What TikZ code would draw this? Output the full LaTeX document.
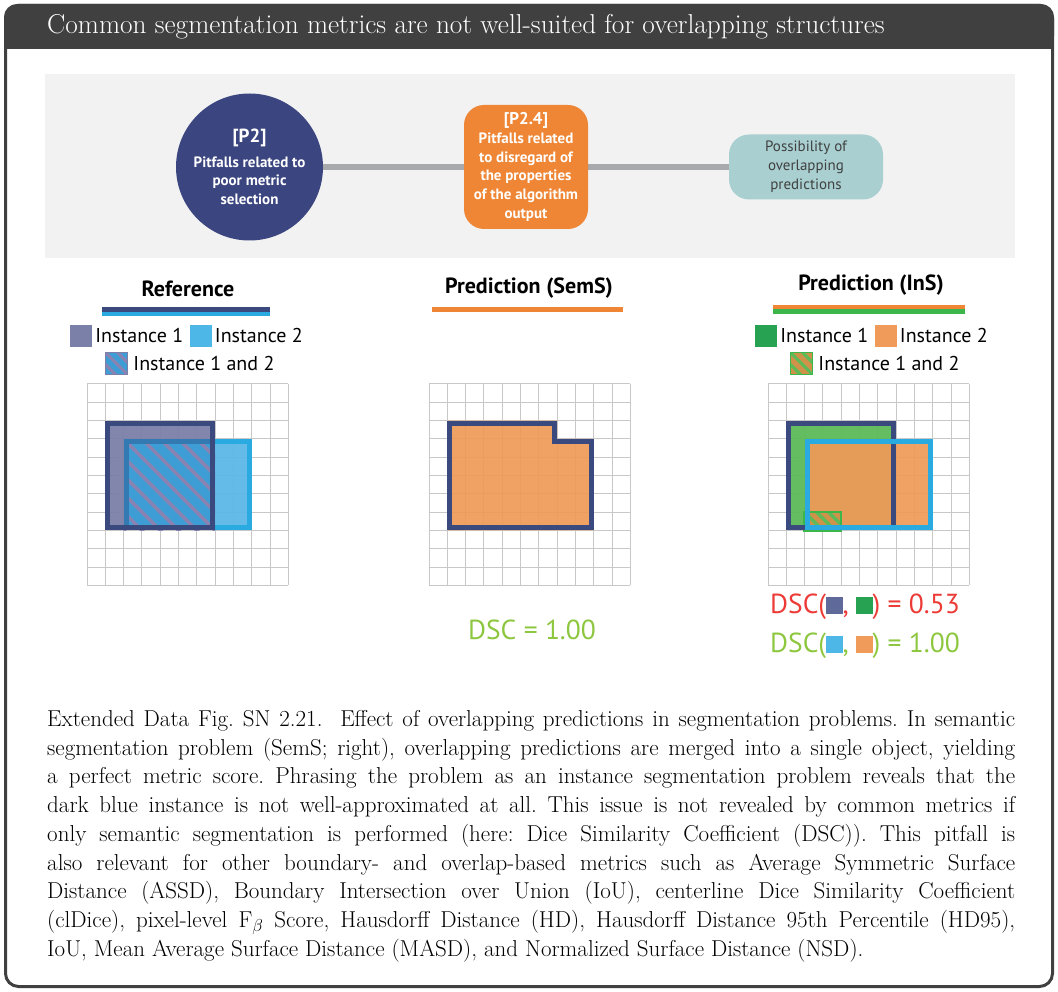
\documentclass[tikz,border=0pt]{standalone}
\usepackage{fontspec}
\newfontfamily\ptsans{PT Sans}
\usetikzlibrary{positioning, backgrounds}
\definecolor{frameGrey}{RGB}{64, 64, 64}
\definecolor{panelGrey}{RGB}{242, 242, 242}
\definecolor{linkGrey}{RGB}{167, 169, 172}
\definecolor{p2Blue}{RGB}{59, 69, 128}
\definecolor{p24Orange}{RGB}{238, 134, 53}
\definecolor{possTeal}{RGB}{169, 207, 208}
\definecolor{insDark}{RGB}{59, 74, 126}
\definecolor{insOneFill}{RGB}{123, 128, 168}
\definecolor{insTwoFill}{RGB}{93, 183, 230}
\definecolor{insTwoLine}{RGB}{41, 171, 226}
\definecolor{mixLine}{RGB}{52, 122, 178}
\definecolor{hatchBase}{RGB}{63, 157, 214}
\definecolor{hatchLine}{RGB}{138, 130, 176}
\definecolor{semsOrange}{RGB}{239, 154, 87}
\definecolor{insGreen}{RGB}{92, 186, 88}
\definecolor{legGreen}{RGB}{39, 162, 83}
\definecolor{legOrange}{RGB}{240, 155, 90}
\definecolor{legBlue}{RGB}{77, 184, 232}
\definecolor{dscBlue}{RGB}{95, 106, 154}
\definecolor{hatchBrown}{RGB}{208, 146, 72}
\definecolor{hatchGreen}{RGB}{60, 181, 74}
\definecolor{dscRed}{RGB}{236, 59, 54}
\definecolor{dscGreen}{RGB}{141, 198, 63}
\definecolor{gridGrey}{RGB}{200, 200, 200}
\tikzset{
  GridLn/.style  = {draw=gridGrey, line width=1},
  Edge/.style    = {line width=5},
  Stripe/.style  = {line width=3.5},
  Swatch/.style  = {minimum size=22, inner sep=0, anchor=center},
  LegTxt/.style  = {font=\ptsans\fontsize{20}{23}\selectfont, inner sep=0, anchor=west},
  Head/.style    = {font=\ptsans\bfseries\fontsize{22}{26}\selectfont, inner sep=0},
  DscTxt/.style  = {font=\ptsans\fontsize{27.5}{31}\selectfont, inner sep=0},
  Ttl/.style     = {font=\fontsize{27.3}{30}\selectfont, text=white, anchor=west, inner sep=0},
  Capt/.style    = {font=\fontsize{23}{28.75}\selectfont\frenchspacing, align=justify,
                    text width=968, anchor=north west, inner sep=0},
  P2Circ/.style  = {circle, fill=p2Blue, minimum size=147, inner sep=0, text=white,
                    align=center, font=\ptsans\bfseries\fontsize{15}{18.5}\selectfont},
  P24Box/.style  = {rectangle, rounded corners=20, fill=p24Orange, minimum width=124,
                    minimum height=124, inner sep=0, text=white, align=center,
                    font=\ptsans\bfseries\fontsize{15}{18.7}\selectfont},
  PossBox/.style = {rectangle, rounded corners=20, fill=possTeal, minimum width=154,
                    minimum height=65, inner sep=0, text=frameGrey, align=center,
                    font=\ptsans\fontsize{15}{19}\selectfont},
  Link/.style    = {draw=linkGrey, line width=6},
  RefHatch/.style = {Swatch, fill=hatchBase, draw=insOneFill, line width=1.5,
                     path picture={\foreach \k in {-12,0,12}
                       \draw[hatchLine, line width=3]
                         ([xshift=\k]path picture bounding box.north west) -- ++(30,30);}},
  InsHatch/.style = {Swatch, fill=hatchBrown, draw=hatchGreen, line width=1.5,
                     path picture={\foreach \k in {-12,0,12}
                       \draw[insGreen, line width=3]
                         ([xshift=\k]path picture bounding box.north west) -- ++(30,30);}},
}
\newcommand{\cs}{18.3}
\newcommand{\pixgrid}{%
  \foreach \k in {0,...,11} {
    \draw[GridLn] (\k*\cs, 0) -- (\k*\cs, 11*\cs);
    \draw[GridLn] (0, \k*\cs) -- (11*\cs, \k*\cs);
  }}
\newcommand{\sqbox}[1]{\textcolor{#1}{\rule{0.6em}{0.6em}}}
\newcommand{\jline}[1]{\makebox[968pt][s]{#1}}

\begin{document}
\begin{tikzpicture}[x=1pt, y=-1pt]
\useasboundingbox (0,0) rectangle (1058,992);

% ======================= frame and title =================================
\fill[frameGrey, rounded corners=13] (4,4) rectangle (1054,49);
\fill[frameGrey] (4,30) rectangle (1054,49);
\draw[frameGrey, line width=3, rounded corners=13] (5.5,5.5) rectangle (1052.5,986.5);
\node[Ttl] (title) at (47,27)
  {Common segmentation metrics are not well-suited for overlapping structures};

% ======================= pitfall path ====================================
\node[P2Circ] (p2) at (249.5,167)
  {{\fontsize{19}{22}\selectfont [P2]}\\[6pt]Pitfalls related to\\poor metric\\selection};
\node[P24Box] (p24) at (526,167)
  {{\fontsize{17}{20}\selectfont [P2.4]}\\Pitfalls related\\to disregard of\\the properties\\
   of the algorithm\\output};
\node[PossBox] (poss) at (806,167) {Possibility of\\overlapping\\predictions};
\begin{scope}[on background layer]
  \fill[panelGrey] (45,74) rectangle (1015,258);
  \draw[Link] (p2) -- (poss);
\end{scope}

% ======================= headings ========================================
\node[Head] (refhd) at (188,289) {Reference};
\fill[insDark] (102,307) rectangle (270,312.5);
\fill[insTwoLine] (102,312.5) rectangle (270,316);
\node[Head] (semhd) at (529,288) {Prediction (SemS)};
\fill[p24Orange] (432,307) rectangle (623,312);
\node[Head] (inshd) at (871,285) {Prediction (InS)};
\fill[p24Orange] (773,305) rectangle (965,309.5);
\fill[hatchGreen] (773,309.5) rectangle (965,314);

% ======================= legends =========================================
\node[Swatch, fill=insOneFill] (refsw1) at (81,336) {};
\node[LegTxt, right=3 of refsw1] (reftx1) {Instance 1};
\node[Swatch, fill=legBlue, right=6 of reftx1] (refsw2) {};
\node[LegTxt, right=3 of refsw2] (reftx2) {Instance 2};
\node[RefHatch] (refsw3) at (116.5,363.5) {};
\node[LegTxt, right=5 of refsw3] (reftx3) {Instance 1 and 2};

\node[Swatch, fill=legGreen] (inssw1) at (766,336) {};
\node[LegTxt, right=3 of inssw1] (instx1) {Instance 1};
\node[Swatch, fill=legOrange, right=6 of instx1] (inssw2) {};
\node[LegTxt, right=3 of inssw2] (instx2) {Instance 2};
\node[InsHatch] (inssw3) at (801.5,363.5) {};
\node[LegTxt, right=5 of inssw3] (instx3) {Instance 1 and 2};

% ======================= reference grid ==================================
\begin{scope}[shift={(87,384)}]
  \pixgrid
  \fill[insOneFill, fill opacity=0.95] (\cs,2*\cs) rectangle (7*\cs,8*\cs);
  \fill[insTwoFill, fill opacity=0.95] (7*\cs,3*\cs) rectangle (9*\cs,8*\cs);
  \begin{scope}
    \clip (2*\cs,3*\cs) rectangle (7*\cs,8*\cs);
    \fill[hatchBase] (2*\cs,3*\cs) rectangle (7*\cs,8*\cs);
    \foreach \k in {-5,...,5}
      \draw[Stripe, hatchLine] (2*\cs+\k*\cs, 3*\cs) -- ++(6*\cs, 6*\cs);
  \end{scope}
  \draw[Edge, insTwoLine] (2*\cs+2.5, 3*\cs+2.5) rectangle (9*\cs-2.5, 8*\cs-2.5);
  \begin{scope}
    \clip (\cs,2*\cs) rectangle (7*\cs,8*\cs);
    \draw[Edge, mixLine] (2*\cs+2.5, 3*\cs+2.5) rectangle (9*\cs-2.5, 8*\cs-2.5);
  \end{scope}
  \draw[Edge, insDark] (\cs+2.5, 2*\cs+2.5) rectangle (7*\cs-2.5, 8*\cs-2.5);
\end{scope}

% ======================= semantic prediction grid ========================
\begin{scope}[shift={(429,384)}]
  \pixgrid
  \fill[semsOrange, fill opacity=0.92] (\cs,2*\cs) -- (7*\cs,2*\cs) -- (7*\cs,3*\cs)
    -- (9*\cs,3*\cs) -- (9*\cs,8*\cs) -- (\cs,8*\cs) -- cycle;
  \draw[Edge, insDark] (\cs+2.5, 2*\cs+2.5) -- (7*\cs-2.5, 2*\cs+2.5)
    -- (7*\cs-2.5, 3*\cs+2.5) -- (9*\cs-2.5, 3*\cs+2.5) -- (9*\cs-2.5, 8*\cs-2.5)
    -- (\cs+2.5, 8*\cs-2.5) -- cycle;
\end{scope}
\node[DscTxt, text=dscGreen] (dscsem) at (532,630) {DSC = 1.00};

% ======================= instance prediction grid ========================
\begin{scope}[shift={(768,384)}]
  \pixgrid
  \fill[insGreen, fill opacity=0.95] (\cs,2*\cs) rectangle (7*\cs,8*\cs);
  \fill[semsOrange, fill opacity=0.92] (2*\cs,3*\cs) rectangle (9*\cs,8*\cs);
  \begin{scope}
    \clip (2*\cs,7*\cs) rectangle (4*\cs,8*\cs);
    \fill[hatchBrown] (2*\cs,7*\cs) rectangle (4*\cs,8*\cs);
    \foreach \k in {-3,...,3}
      \draw[Stripe, insGreen] (2*\cs+\k*12, 7*\cs) -- ++(20,20);
  \end{scope}
  \draw[hatchGreen, line width=2.5] (2*\cs, 7*\cs) rectangle (4*\cs, 8*\cs);
  \draw[Edge, insDark] (\cs+2.5, 2*\cs+2.5) rectangle (7*\cs-2.5, 8*\cs-2.5);
  \draw[Edge, insTwoLine] (2*\cs+2.5, 3*\cs+2.5) rectangle (9*\cs-2.5, 8*\cs-2.5);
\end{scope}
\node[DscTxt, text=dscRed] (dscone) at (865,607)
  {DSC(\sqbox{dscBlue}, \sqbox{legGreen}) = 0.53};
\node[DscTxt, text=dscGreen] (dsctwo) at (865,646)
  {DSC(\sqbox{legBlue}, \sqbox{legOrange}) = 1.00};

% ======================= caption =========================================
\node[Capt] (capt) at (47,710) {%
  \jline{Extended Data Fig. SN 2.21.\ \ Effect of overlapping predictions in segmentation problems. In semantic}\\
  \jline{segmentation problem (SemS; right), overlapping predictions are merged into a single object, yielding}\\
  \jline{a perfect metric score. Phrasing the problem as an instance segmentation problem reveals that the}\\
  \jline{dark blue instance is not well-approximated at all. This issue is not revealed by common metrics if}\\
  \jline{only semantic segmentation is performed (here: Dice Similarity Coefficient (DSC)). This pitfall is}\\
  \jline{also relevant for other boundary- and overlap-based metrics such as Average Symmetric Surface}\\
  \jline{Distance (ASSD), Boundary Intersection over Union (IoU), centerline Dice Similarity Coefficient}\\
  \jline{(clDice), pixel-level F$_\beta$ Score, Hausdorff Distance (HD), Hausdorff Distance 95th Percentile (HD95),}\\
  IoU, Mean Average Surface Distance (MASD), and Normalized Surface Distance (NSD).};

\end{tikzpicture}
\end{document}
